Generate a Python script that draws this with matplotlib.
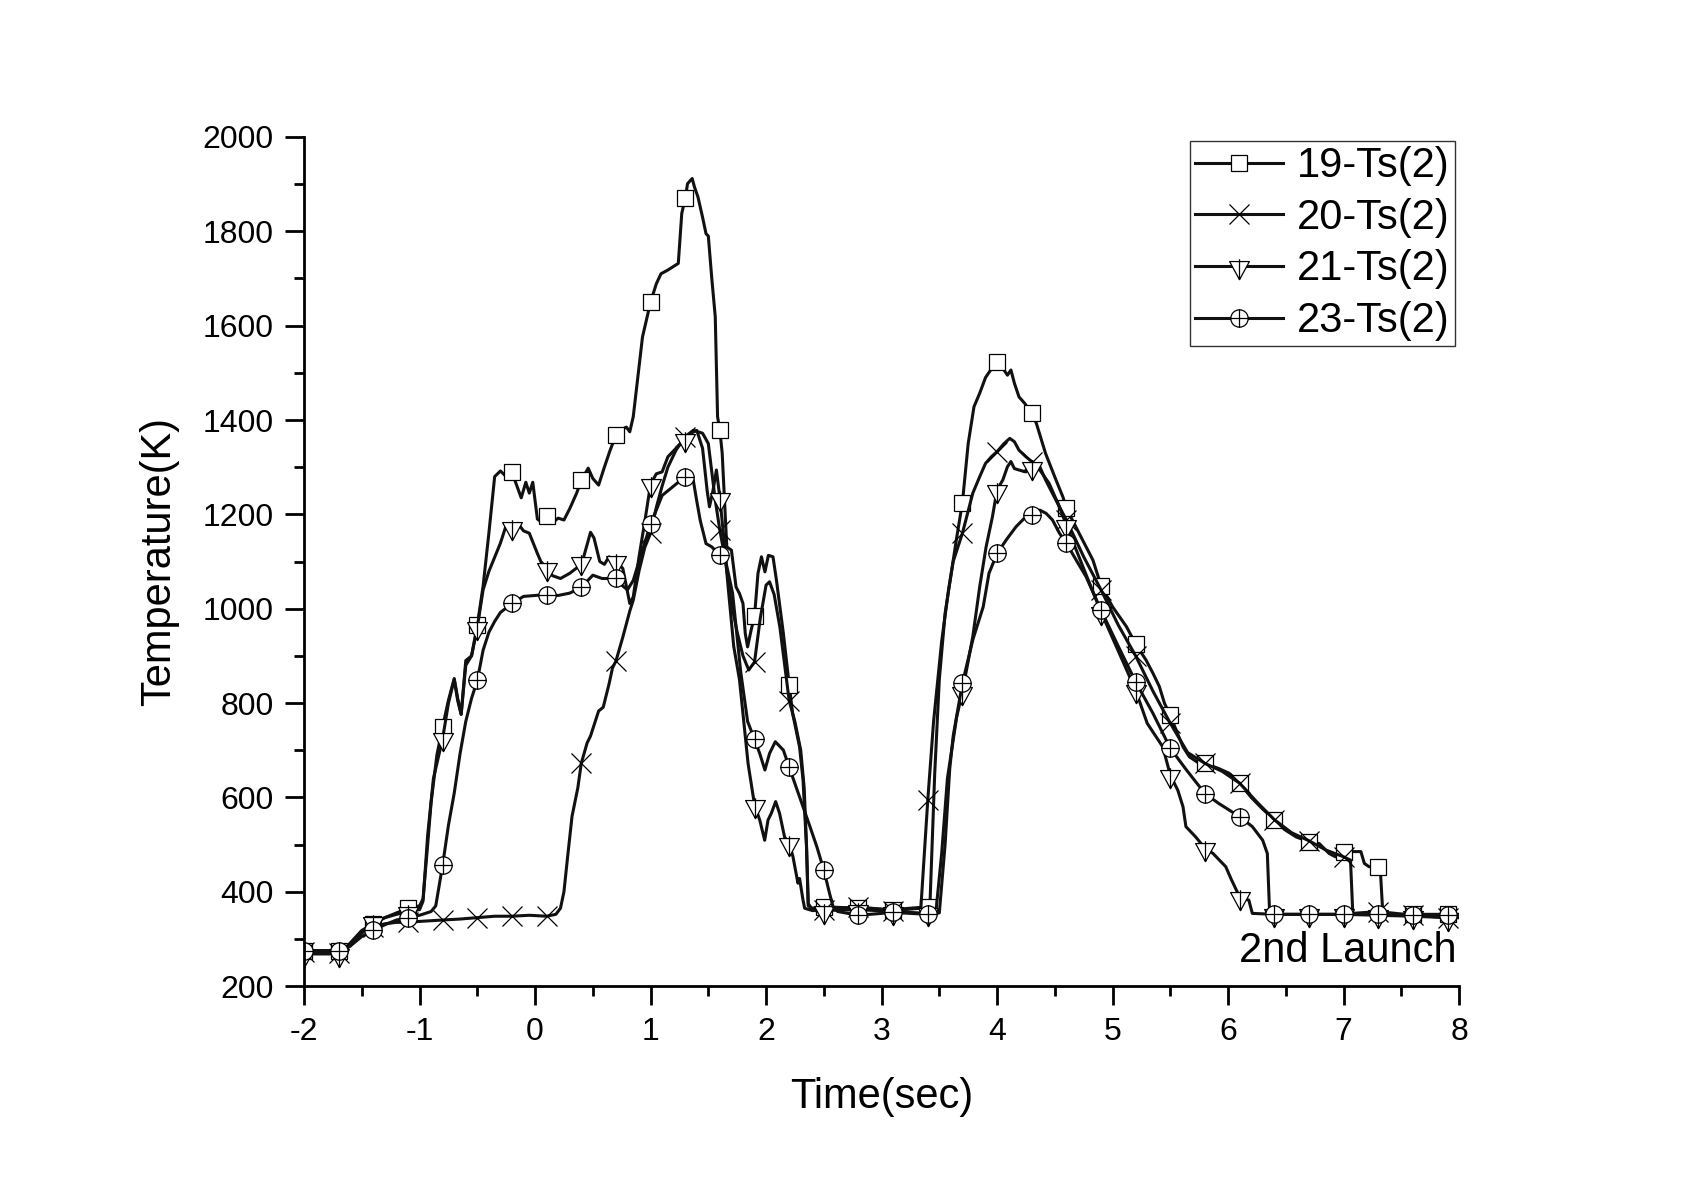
import numpy as np
import matplotlib
matplotlib.use('Agg')
import matplotlib.pyplot as plt
from matplotlib.path import Path
from matplotlib.ticker import MultipleLocator

plt.rcParams['font.family'] = ['Liberation Sans', 'DejaVu Sans']
plt.rcParams['axes.unicode_minus'] = False

# (time s, temperature K)
s19 = [(-2.0, 275), (-1.7, 275), (-1.65, 278), (-1.5, 318), (-1.4, 332), (-1.3, 345), (-1.2, 355),
       (-1.1, 365), (-1.0, 370), (-0.97, 385), (-0.93, 500), (-0.9, 590), (-0.85, 690), (-0.8, 750),
       (-0.75, 806), (-0.7, 852), (-0.67, 810), (-0.64, 776), (-0.6, 890), (-0.55, 900), (-0.5, 965),
       (-0.45, 1048), (-0.4, 1160), (-0.35, 1280), (-0.3, 1292), (-0.25, 1280), (-0.2, 1289),
       (-0.15, 1255), (-0.12, 1235), (-0.08, 1268), (-0.05, 1245), (-0.02, 1268), (0.02, 1190),
       (0.05, 1185), (0.1, 1196), (0.15, 1182), (0.2, 1192), (0.25, 1188), (0.3, 1212), (0.36, 1245),
       (0.4, 1272), (0.46, 1298), (0.5, 1276), (0.55, 1262), (0.6, 1300), (0.65, 1336), (0.7, 1368),
       (0.75, 1380), (0.79, 1385), (0.82, 1375), (0.85, 1407), (0.93, 1576), (1.0, 1650), (1.05, 1689),
       (1.09, 1710), (1.15, 1718), (1.24, 1732), (1.27, 1838), (1.3, 1870), (1.32, 1901), (1.36, 1912),
       (1.38, 1894), (1.41, 1873), (1.45, 1830), (1.48, 1795), (1.5, 1790), (1.53, 1700), (1.56, 1619),
       (1.58, 1407), (1.6, 1378), (1.62, 1330), (1.64, 1230), (1.66, 1131), (1.7, 1124), (1.74, 1046),
       (1.77, 1032), (1.8, 1011), (1.82, 947), (1.84, 919), (1.87, 954), (1.9, 984), (1.93, 1075),
       (1.96, 1110), (1.99, 1078), (2.02, 1113), (2.06, 1110), (2.09, 1060), (2.15, 947), (2.2, 839),
       (2.23, 778), (2.29, 707), (2.32, 637), (2.335, 566), (2.35, 495), (2.365, 370), (2.4, 365),
       (2.5, 368), (2.8, 365), (3.1, 362), (3.4, 368), (3.42, 380), (3.46, 650), (3.5, 850),
       (3.55, 990), (3.6, 1070), (3.65, 1150), (3.7, 1225), (3.75, 1350), (3.8, 1428), (3.85, 1457),
       (3.9, 1490), (3.95, 1508), (4.0, 1523), (4.06, 1506), (4.09, 1495), (4.12, 1506), (4.15, 1478),
       (4.19, 1449), (4.24, 1435), (4.3, 1414), (4.34, 1393), (4.42, 1329), (4.51, 1273), (4.57, 1237),
       (4.6, 1213), (4.71, 1160), (4.83, 1103), (4.9, 1049), (5.0, 1004), (5.12, 962), (5.2, 925),
       (5.29, 891), (5.35, 863), (5.405, 835), (5.45, 799), (5.5, 774), (5.55, 743), (5.61, 707),
       (5.665, 686), (5.75, 672), (5.8, 672), (5.92, 661), (6.01, 651), (6.1, 630), (6.2, 600),
       (6.3, 575), (6.4, 553), (6.5, 530), (6.59, 516), (6.7, 506), (6.79, 502), (6.875, 481),
       (6.93, 474), (7.0, 485), (7.08, 485), (7.15, 485), (7.18, 460), (7.22, 453), (7.3, 453),
       (7.32, 439), (7.34, 354), (7.4, 352), (7.6, 352), (7.9, 352), (8.0, 352)]

s20 = [(-2.0, 272), (-1.7, 270), (-1.6, 290), (-1.5, 315), (-1.4, 325), (-1.3, 332), (-1.2, 335),
       (-1.1, 335), (-1.0, 337), (-0.8, 340), (-0.65, 342), (-0.5, 345), (-0.35, 348), (-0.2, 348),
       (-0.05, 350), (0.1, 348), (0.18, 352), (0.22, 365), (0.25, 400), (0.28, 470), (0.32, 560),
       (0.37, 620), (0.4, 672), (0.45, 715), (0.48, 730), (0.55, 783), (0.59, 791), (0.64, 840),
       (0.67, 874), (0.7, 889), (0.76, 940), (0.82, 995), (0.85, 1018), (0.9, 1080), (0.95, 1130),
       (1.0, 1160), (1.05, 1215), (1.1, 1260), (1.15, 1300), (1.22, 1336), (1.3, 1365), (1.37, 1378),
       (1.45, 1372), (1.5, 1350), (1.53, 1290), (1.56, 1230), (1.6, 1166), (1.65, 1100), (1.7, 1010),
       (1.75, 950), (1.8, 900), (1.85, 870), (1.9, 887), (1.95, 980), (2.0, 1050), (2.03, 1057),
       (2.07, 1030), (2.12, 960), (2.2, 805), (2.25, 760), (2.3, 700), (2.33, 620), (2.35, 500),
       (2.365, 375), (2.4, 362), (2.5, 362), (2.8, 368), (3.1, 360), (3.34, 365), (3.4, 594),
       (3.45, 760), (3.52, 930), (3.58, 1040), (3.62, 1100), (3.7, 1160), (3.79, 1245), (3.85, 1280),
       (3.9, 1308), (3.95, 1322), (4.0, 1333), (4.06, 1350), (4.11, 1361), (4.15, 1354), (4.19, 1336),
       (4.25, 1322), (4.3, 1312), (4.37, 1301), (4.42, 1273), (4.51, 1230), (4.6, 1188), (4.75, 1110),
       (4.9, 1040), (5.05, 965), (5.2, 900), (5.35, 825), (5.5, 757), (5.65, 695), (5.8, 672),
       (5.95, 655), (6.1, 630), (6.25, 590), (6.4, 553), (6.55, 525), (6.7, 508), (6.85, 488),
       (7.0, 474), (7.06, 467), (7.08, 354), (7.3, 358), (7.6, 350), (7.9, 345), (8.0, 345)]

s21 = [(-2.0, 268), (-1.7, 268), (-1.6, 285), (-1.5, 312), (-1.4, 336), (-1.3, 345), (-1.2, 352),
       (-1.1, 358), (-1.0, 362), (-0.97, 380), (-0.93, 520), (-0.88, 640), (-0.8, 725), (-0.75, 800),
       (-0.7, 850), (-0.67, 805), (-0.64, 776), (-0.6, 880), (-0.55, 900), (-0.5, 961), (-0.45, 1040),
       (-0.4, 1079), (-0.3, 1139), (-0.25, 1177), (-0.2, 1173), (-0.15, 1181), (-0.1, 1165),
       (-0.05, 1160), (0.02, 1117), (0.05, 1100), (0.1, 1086), (0.15, 1070), (0.22, 1064), (0.3, 1075),
       (0.38, 1090), (0.4, 1100), (0.42, 1109), (0.48, 1162), (0.51, 1150), (0.56, 1100), (0.6, 1094),
       (0.64, 1110), (0.7, 1102), (0.76, 1085), (0.82, 1011), (0.85, 1025), (0.9, 1110), (0.95, 1185),
       (1.0, 1264), (1.05, 1286), (1.1, 1290), (1.15, 1322), (1.22, 1340), (1.3, 1360), (1.35, 1372),
       (1.4, 1378), (1.45, 1340), (1.49, 1250), (1.51, 1216), (1.54, 1250), (1.57, 1294), (1.6, 1235),
       (1.63, 1160), (1.67, 1050), (1.72, 920), (1.77, 849), (1.844, 672), (1.9, 584), (1.945, 552),
       (1.988, 509), (2.017, 552), (2.045, 566), (2.083, 591), (2.117, 566), (2.16, 516), (2.2, 503),
       (2.233, 474), (2.26, 439), (2.276, 418), (2.29, 428), (2.32, 382), (2.334, 365), (2.4, 360),
       (2.5, 360), (2.8, 362), (3.1, 358), (3.4, 354), (3.47, 356), (3.52, 480), (3.57, 640),
       (3.65, 770), (3.7, 824), (3.79, 941), (3.85, 1047), (3.905, 1131), (3.96, 1195), (4.0, 1252),
       (4.05, 1273), (4.09, 1301), (4.12, 1312), (4.15, 1297), (4.19, 1294), (4.25, 1290), (4.3, 1301),
       (4.37, 1294), (4.45, 1266), (4.54, 1216), (4.6, 1177), (4.75, 1085), (4.9, 993), (5.05, 910),
       (5.2, 827), (5.3, 757), (5.435, 707), (5.5, 647), (5.565, 615), (5.61, 580), (5.635, 538),
       (5.72, 516), (5.8, 492), (5.87, 481), (5.925, 467), (5.98, 453), (6.03, 425), (6.1, 389),
       (6.18, 382), (6.21, 354), (6.4, 352), (6.7, 352), (7.0, 352), (7.3, 350), (7.6, 348),
       (7.9, 345), (8.0, 345)]

s23 = [(-2.0, 275), (-1.7, 275), (-1.6, 285), (-1.5, 305), (-1.4, 318), (-1.3, 330), (-1.2, 340),
       (-1.1, 345), (-1.0, 350), (-0.9, 358), (-0.86, 370), (-0.8, 457), (-0.75, 541), (-0.7, 609),
       (-0.65, 692), (-0.6, 761), (-0.55, 810), (-0.5, 848), (-0.45, 912), (-0.4, 950), (-0.35, 973),
       (-0.3, 992), (-0.2, 1011), (-0.1, 1026), (0.0, 1028), (0.1, 1030), (0.2, 1028), (0.3, 1033),
       (0.4, 1045), (0.5, 1071), (0.58, 1064), (0.7, 1064), (0.75, 1050), (0.8, 1040), (0.85, 1060),
       (0.9, 1100), (0.95, 1140), (1.0, 1179), (1.1, 1240), (1.2, 1260), (1.3, 1280), (1.37, 1272),
       (1.4, 1228), (1.43, 1187), (1.48, 1138), (1.53, 1131), (1.6, 1113), (1.65, 1101), (1.71, 1033),
       (1.78, 867), (1.84, 761), (1.9, 723), (1.945, 693), (1.99, 658), (2.03, 693), (2.08, 718),
       (2.15, 700), (2.2, 664), (2.26, 622), (2.32, 580), (2.38, 538), (2.44, 495), (2.5, 446),
       (2.55, 396), (2.58, 368), (2.62, 358), (2.8, 350), (3.1, 356), (3.4, 352), (3.5, 355),
       (3.55, 500), (3.59, 660), (3.62, 730), (3.7, 842), (3.79, 934), (3.88, 1004), (3.93, 1075),
       (4.0, 1117), (4.08, 1146), (4.165, 1174), (4.25, 1195), (4.3, 1199), (4.37, 1209),
       (4.425, 1202), (4.48, 1188), (4.54, 1160), (4.6, 1139), (4.685, 1103), (4.77, 1068),
       (4.9, 997), (5.05, 920), (5.2, 845), (5.35, 778), (5.5, 704), (5.64, 658), (5.8, 608),
       (5.92, 587), (6.1, 559), (6.21, 538), (6.3, 509), (6.34, 481), (6.36, 354), (6.4, 352),
       (6.7, 352), (7.0, 352), (7.3, 352), (7.6, 350), (7.9, 350), (8.0, 350)]

labels = ['19-Ts(2)', '20-Ts(2)', '21-Ts(2)', '23-Ts(2)']

# custom markers: triangle with a cross, circle with a cross
tri_plus = Path.make_compound_path(
    Path([(-0.75, 0.375), (0.75, 0.375), (0, -1), (-0.75, 0.375)],
         [Path.MOVETO, Path.LINETO, Path.LINETO, Path.CLOSEPOLY]),
    Path([(0, 0.55), (0, -1)], [Path.MOVETO, Path.LINETO]))
circ_plus = Path.make_compound_path(
    Path.unit_circle(),
    Path([(-1, 0), (1, 0)], [Path.MOVETO, Path.LINETO]),
    Path([(0, -1), (0, 1)], [Path.MOVETO, Path.LINETO]))

styles = [dict(marker='s', ms=11), dict(marker='x', ms=14),
          dict(marker=tri_plus, ms=19), dict(marker=circ_plus, ms=12.5)]

marker_t = np.arange(-2.0, 8.0, 0.3)

fig = plt.figure(figsize=(16.95, 11.83), dpi=100)
ax = fig.add_axes([0.1794, 0.1665, 0.6814, 0.7177])

for data, lab, st in zip([s19, s20, s21, s23], labels, styles):
    t = np.array([p[0] for p in data])
    v = np.array([p[1] for p in data])
    idx = [i for i in range(len(t)) if np.isclose(t[i], marker_t, atol=1e-6).any()]
    ax.plot(t, v, color='#111111', lw=2.2, label=lab, markevery=idx,
            mfc='white', mec='black', mew=0.9, **st)

ax.set_xlim(-2, 8)
ax.set_ylim(200, 2000)
ax.set_xticks(range(-2, 9))
ax.set_yticks(range(200, 2001, 200))
ax.xaxis.set_minor_locator(MultipleLocator(0.5))
ax.yaxis.set_minor_locator(MultipleLocator(100))
ax.tick_params(which='major', direction='out', length=14, width=2, labelsize=23, pad=8)
ax.tick_params(which='minor', direction='out', length=7, width=2)
for s in ['top', 'right']:
    ax.spines[s].set_visible(False)
for s in ['left', 'bottom']:
    ax.spines[s].set_linewidth(2)

ax.set_xlabel('Time(sec)', fontsize=30, labelpad=22)
ax.set_ylabel('Temperature(K)', fontsize=30, labelpad=17)
ax.text(0.998, 0.028, '2nd Launch', transform=ax.transAxes, ha='right', va='baseline', fontsize=30)

leg = ax.legend(loc='upper right', fontsize=30, frameon=True, fancybox=False, borderaxespad=0.1,
                handlelength=2.1, handletextpad=0.35, labelspacing=0.28, borderpad=0.12)
leg.get_frame().set_edgecolor('black')
leg.get_frame().set_linewidth(1.0)

fig.savefig('out.png', dpi=100)
